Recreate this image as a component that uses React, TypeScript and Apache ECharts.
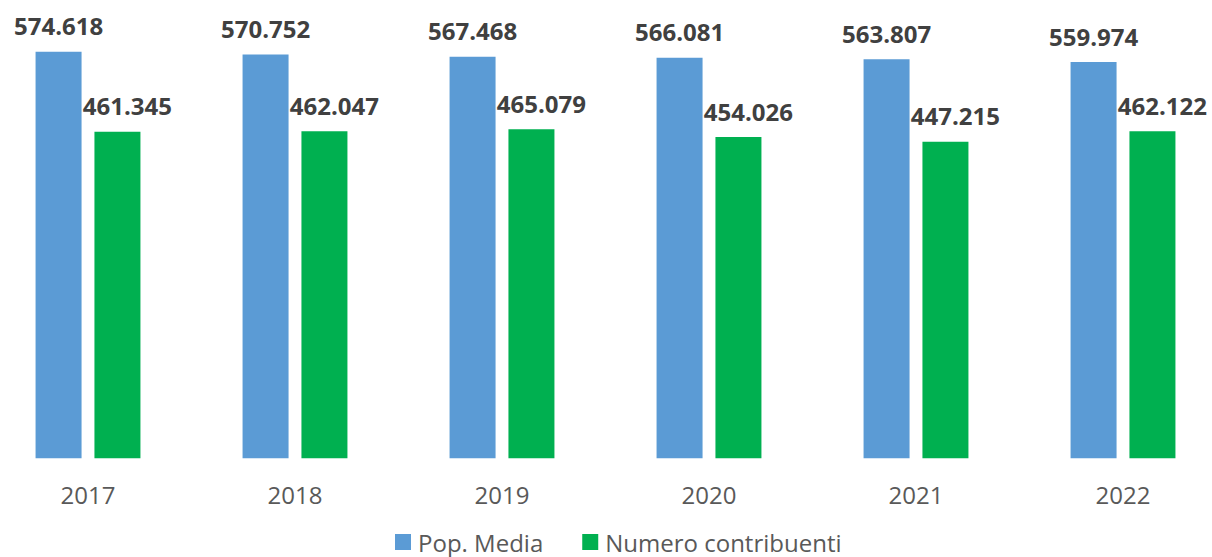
import React, { useEffect, useRef } from "react";
import * as echarts from "echarts";

const years = ["2017", "2018", "2019", "2020", "2021", "2022"];
const popMedia = [574.618, 570.752, 567.468, 566.081, 563.807, 559.974];
const contribuenti = [461.345, 462.047, 465.079, 454.026, 447.215, 462.122];
const seriesNames = ["Pop. Media", "Numero contribuenti"];

const fmt = (v: number) => v.toFixed(3);

export default function App() {
  const ref = useRef<HTMLDivElement>(null);
  useEffect(() => {
    if (!ref.current) return;
    const chart = echarts.init(ref.current, undefined, { renderer: "svg" });
    const font = "'Open Sans', sans-serif";
    const labelStyle = {
      show: true,
      position: "top" as const,
      distance: 14,
      fontFamily: font,
      fontSize: 24,
      fontWeight: "bold" as const,
      color: "#404040",
      formatter: (p: any) => fmt(p.value),
    };
    chart.setOption({
      animation: false,
      backgroundColor: "#ffffff",
      grid: {
        left: -15.5,
        right: -14.5,
        top: 33.7,
        bottom: 98.7,
        containLabel: false,
        outerBoundsMode: "none",
      },
      legend: {
        data: seriesNames,
        left: 395,
        top: 530,
        padding: 0,
        itemWidth: 16,
        itemHeight: 16,
        itemGap: 39,
        icon: "rect",
        textStyle: {
          fontFamily: font,
          fontSize: 24,
          lineHeight: 24,
          color: "#595959",
          padding: [0, 0, 0, 2],
        },
      },
      xAxis: {
        type: "category",
        data: years,
        axisLine: { show: false },
        axisTick: { show: false },
        axisLabel: { fontFamily: font, fontSize: 24, color: "#595959", margin: 24 },
      },
      yAxis: {
        type: "value",
        min: 0,
        max: 600,
        show: false,
        splitLine: { show: false },
      },
      series: [
        {
          name: seriesNames[0],
          type: "bar",
          data: popMedia,
          barWidth: 46,
          barGap: "28%",
          itemStyle: { color: "#5B9BD5" },
          label: labelStyle,
        },
        {
          name: seriesNames[1],
          type: "bar",
          data: contribuenti,
          barWidth: 46,
          itemStyle: { color: "#00B050" },
          label: { ...labelStyle, offset: [10, 0] },
        },
      ],
    });
    return () => chart.dispose();
  }, []);
  return (
    <div
      ref={ref}
      style={{ position: "fixed", left: 0, top: 0, width: 1212, height: 557, background: "#fff" }}
    />
  );
}
